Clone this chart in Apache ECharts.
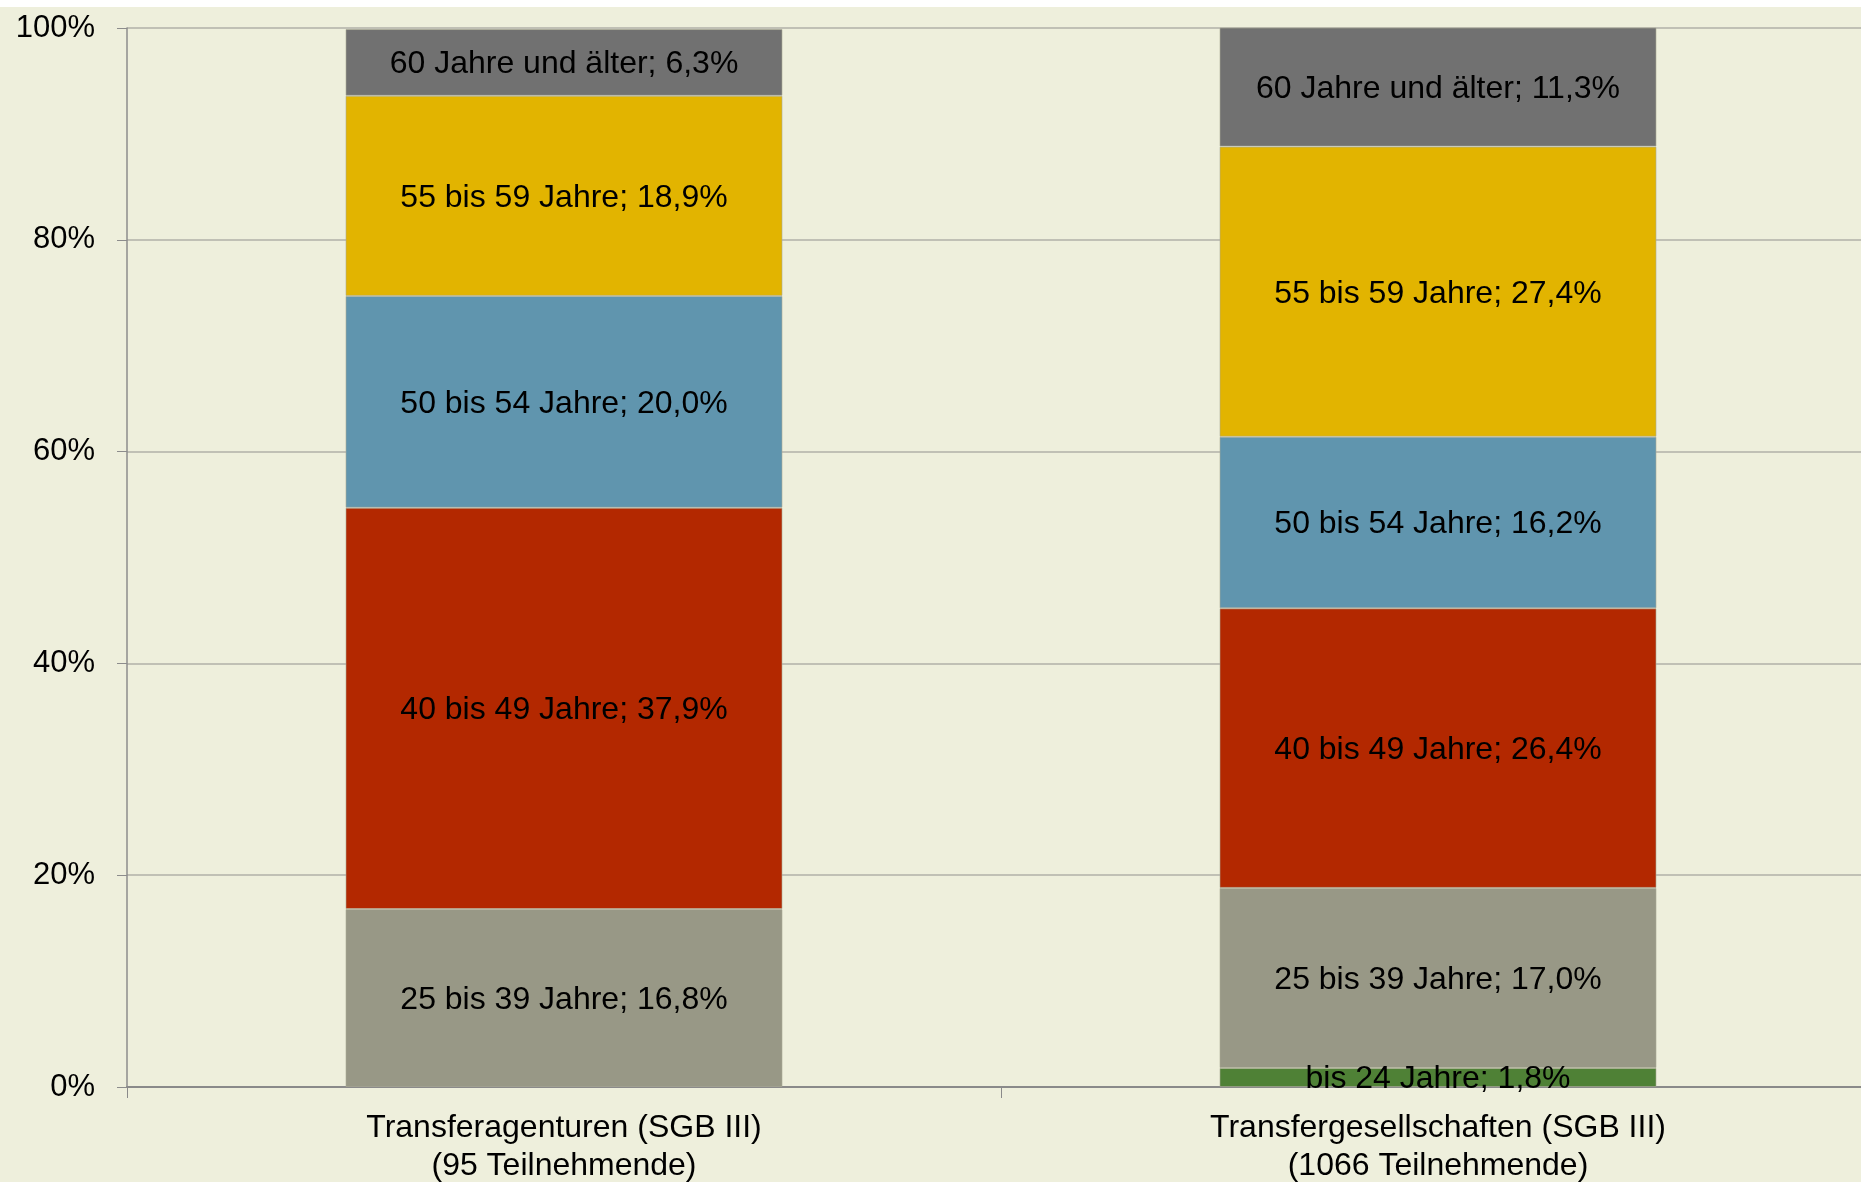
<!DOCTYPE html>
<html>
<head>
<meta charset="utf-8">
<script src="https://cdn.jsdelivr.net/npm/echarts@6/dist/echarts.min.js"></script>
<style>
  html, body { margin: 0; padding: 0; background: #fff; }
  #chart { position: absolute; left: 0; top: 7px; width: 1861px; height: 1175px; background: #eeefdc; }
</style>
</head>
<body>
<div id="chart"></div>
<script>
// Kategorien und Werte (Anteile in %)
const categories = ['Transferagenturen (SGB III)\n(95 Teilnehmende)', 'Transfergesellschaften (SGB III)\n(1066 Teilnehmende)'];
const groups = ['bis 24 Jahre', '25 bis 39 Jahre', '40 bis 49 Jahre', '50 bis 54 Jahre', '55 bis 59 Jahre', '60 Jahre und älter'];
const bis24 = [null, 1.8];
const j25bis39 = [16.8, 17.0];
const j40bis49 = [37.9, 26.4];
const j50bis54 = [20.0, 16.2];
const j55bis59 = [18.9, 27.4];
const ab60 = [6.3, 11.3];
const colors = ['#4f8136', '#989886', '#b32800', '#6095ae', '#e2b400', '#717171'];
const yTicks = [0, 20, 40, 60, 80, 100];

const values = [bis24, j25bis39, j40bis49, j50bis54, j55bis59, ab60];
const font = 'Tahoma, "Liberation Sans", Arial, sans-serif';

const chart = echarts.init(document.getElementById('chart'));

const series = groups.map((name, i) => ({
  name: name,
  type: 'bar',
  stack: 'alter',
  barWidth: '50%',
  data: values[i],
  itemStyle: { color: colors[i], borderColor: 'rgba(170,170,150,0.6)', borderWidth: 1 },
  label: {
    show: true,
    position: 'inside',
    offset: [0, 2],
    color: '#000',
    fontFamily: font,
    fontSize: 32,
    formatter: p => p.value == null ? '' : p.seriesName + '; ' + p.value.toFixed(1).replace('.', ',') + '%'
  }
}));

chart.setOption({
  animation: false,
  grid: { left: 127, top: 21, width: 1748, bottom: 95, containLabel: false, outerBoundsMode: 'none' },
  xAxis: {
    type: 'category',
    data: categories,
    axisLine: { lineStyle: { color: '#8a8a8a', width: 2 } },
    axisTick: { show: true, length: 11, lineStyle: { color: '#8a8a8a' } },
    axisLabel: { color: '#000', fontFamily: font, fontSize: 32, lineHeight: 38, margin: 22 }
  },
  yAxis: {
    type: 'value',
    min: 0,
    max: 100,
    interval: 20,
    axisLine: { show: true, lineStyle: { color: '#8c8c8c', width: 1.5 } },
    axisTick: { show: true, length: 10, lineStyle: { color: '#8c8c8c' } },
    splitLine: { lineStyle: { color: '#b0b0a8', width: 1.5 } },
    axisLabel: {
      color: '#000', fontFamily: font, fontSize: 31, margin: 32,
      formatter: v => yTicks.includes(v) ? v + '%' : ''
    }
  },
  series: series
});
</script>
</body>
</html>
